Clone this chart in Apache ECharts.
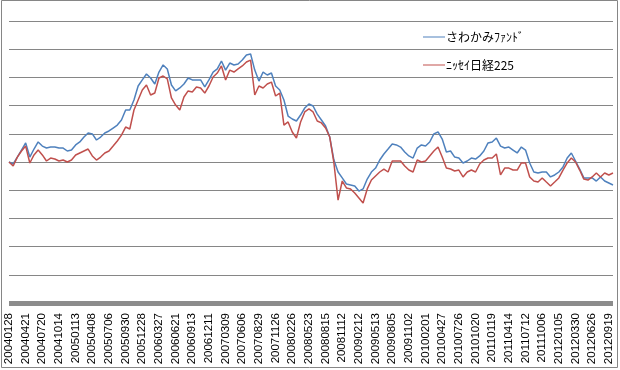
<!DOCTYPE html>
<html>
<head>
<meta charset="utf-8">
<script src="https://cdn.jsdelivr.net/npm/echarts@6/dist/echarts.min.js"></script>
<style>
html,body{margin:0;padding:0;background:#fff;}
#c{width:620px;height:370px;}
</style>
</head>
<body>
<div id="c"></div>
<script>
// Tick labels shown on the x axis
const tickLabels = ['20040128','20040421','20040720','20041014','20050113','20050408','20050706','20050930','20051228','20060327','20060621','20060913','20061211','20070309','20070606','20070829','20071126','20080226','20080523','20080815','20081112','20090212','20090513','20090805','20091102','20100201','20100427','20100726','20101020','20110119','20110414','20110712','20111006','20120105','20120330','20120626','20120919'];

// Sample dates (categories)
const categories = [
'20040128','20040218','20040310','20040331','20040421','20040519','20040609','20040630',
'20040720','20040810','20040831','20040922','20041014','20041105','20041129','20041217',
'20050113','20050203','20050225','20050318','20050408','20050502','20050525','20050615',
'20050706','20050727','20050818','20050908','20050930','20051024','20051115','20051206',
'20051228','20060123','20060213','20060306','20060327','20060418','20060512','20060531',
'20060621','20060712','20060802','20060823','20060913','20061005','20061027','20061120',
'20061211','20070105','20070126','20070216','20070309','20070402','20070423','20070516',
'20070606','20070627','20070718','20070808','20070829','20070920','20071012','20071105',
'20071126','20071217','20080115','20080205','20080226','20080318','20080409','20080501',
'20080523','20080613','20080704','20080725','20080815','20080905','20080929','20081021',
'20081112','20081204','20081226','20090122','20090212','20090305','20090326','20090416',
'20090513','20090603','20090624','20090715','20090805','20090826','20090917','20091009',
'20091102','20091124','20091215','20100112','20100201','20100222','20100315','20100405',
'20100427','20100520','20100610','20100701','20100726','20100816','20100906','20100928',
'20101020','20101111','20101203','20101224','20110119','20110209','20110302','20110324',
'20110414','20110509','20110530','20110620','20110712','20110802','20110823','20110913',
'20111006','20111027','20111118','20111212','20120105','20120126','20120216','20120309',
'20120330','20120423','20120516','20120606','20120626','20120718','20120808','20120829',
'20120919','20121003'];

// さわかみファンド (index, start = 100)
const sawakami = [
100.0,98.6,103.5,108.5,113.5,103.5,109.2,114.2,111.3,109.9,
110.6,110.6,109.9,109.9,107.8,108.5,112.1,114.2,117.7,120.6,
119.9,115.6,117.7,120.6,122.0,124.1,126.2,129.8,136.9,136.9,
144.0,153.9,158.2,162.4,159.6,155.3,163.8,168.8,166.0,154.6,
150.4,152.5,155.3,159.6,158.2,158.2,158.2,153.2,158.2,163.8,
166.0,171.6,165.2,170.2,168.8,169.5,172.3,175.9,176.6,165.2,
157.4,163.8,161.7,163.1,153.9,151.1,144.0,132.6,130.5,129.1,
133.3,138.3,141.1,139.7,134.0,129.8,125.5,117.7,101.4,92.9,
88.7,84.4,83.7,83.0,79.4,80.9,87.9,92.9,95.7,101.4,
105.7,109.2,112.8,112.1,110.6,107.1,104.3,102.8,109.9,112.1,
111.3,114.2,119.9,121.3,116.3,107.1,107.8,103.5,102.8,99.3,
100.7,102.8,102.1,104.3,107.8,113.5,114.2,117.0,111.3,109.9,
110.6,108.5,106.4,110.6,108.5,99.3,92.9,92.2,92.9,92.9,
89.4,90.8,92.9,96.5,102.8,106.4,100.7,95.0,88.7,88.7,
88.7,86.5,89.4,86.5,85.1,83.7];

// ニッセイ日経225 (index, start = 100)
const nissay225 = [
100.0,97.2,103.5,107.8,111.3,99.3,105.0,108.5,105.0,100.7,
102.8,102.1,100.7,101.4,100.0,101.4,105.0,106.4,107.8,109.2,
104.3,101.4,103.5,106.4,107.8,111.3,114.9,119.1,124.8,123.4,
136.9,144.0,151.1,154.6,147.5,148.9,159.6,161.0,158.9,145.4,
140.4,136.9,146.1,150.4,149.6,153.2,152.5,148.9,153.9,160.3,
163.1,168.1,158.2,165.2,163.8,166.0,168.1,170.9,172.3,147.5,
153.9,152.5,155.3,156.7,146.8,148.9,126.2,128.4,121.3,117.0,
128.4,135.5,137.6,135.5,129.1,127.7,124.1,117.7,99.3,73.0,
86.5,81.6,80.9,78.0,74.5,70.9,80.9,87.2,90.1,92.9,
95.0,92.9,100.7,100.7,100.7,97.2,94.3,92.9,101.4,100.0,
100.7,104.3,107.8,110.6,103.5,95.7,95.0,93.6,94.3,89.4,
92.9,94.3,92.9,98.6,101.4,102.8,102.8,105.7,90.8,95.7,
95.7,94.3,94.3,99.3,99.3,89.4,86.5,85.8,88.7,85.8,
83.0,85.8,88.7,94.3,99.3,102.8,100.0,94.3,87.9,87.2,
89.4,92.2,89.4,92.2,90.8,92.2];

const seriesNames = ['さわかみﾌｧﾝﾄﾞ', 'ﾆｯｾｲ日経225'];

const chart = echarts.init(document.getElementById('c'), null, {renderer: 'canvas'});
chart.setOption({
  animation: false,
  backgroundColor: '#fff',
  graphic: [{
    type: 'rect', shape: {x: 1.5, y: 0.5, width: 616, height: 367},
    style: {fill: 'none', stroke: '#868686', lineWidth: 1}, silent: true, z: 0
  }],
  grid: {left: 9, right: 7, top: 21, bottom: 67, containLabel: false},
  legend: {
    orient: 'vertical', left: 418, top: 26, itemGap: 16,
    icon: 'rect', itemWidth: 22, itemHeight: 1,
    textStyle: {fontSize: 12, color: '#000', fontFamily: 'Noto Sans CJK JP', padding: [0,0,0,-4]},
    data: seriesNames
  },
  xAxis: {
    type: 'category', data: categories, boundaryGap: false, offset: 3,
    axisLine: {lineStyle: {color: '#8c8c8c', width: 5, cap: 'butt'}},
    axisTick: {show: false},
    splitLine: {show: false},
    axisLabel: {
      interval: (idx, val) => tickLabels.indexOf(val) >= 0,
      rotate: 90, margin: 7, fontSize: 11.5, color: '#000',
      fontFamily: 'Liberation Sans', hideOverlap: false
    }
  },
  yAxis: {
    type: 'value', min: 0, max: 200, interval: 20,
    axisLabel: {show: false}, axisLine: {show: false}, axisTick: {show: false},
    splitLine: {lineStyle: {color: '#868686', width: 1}}
  },
  series: [
    {name: seriesNames[0], type: 'line', data: sawakami, showSymbol: false, symbol: 'none',
     lineStyle: {color: '#4F81BD', width: 1.5}, itemStyle: {color: '#4F81BD'}},
    {name: seriesNames[1], type: 'line', data: nissay225, showSymbol: false, symbol: 'none',
     lineStyle: {color: '#C0504D', width: 1.5}, itemStyle: {color: '#C0504D'}}
  ]
});
</script>
</body>
</html>
